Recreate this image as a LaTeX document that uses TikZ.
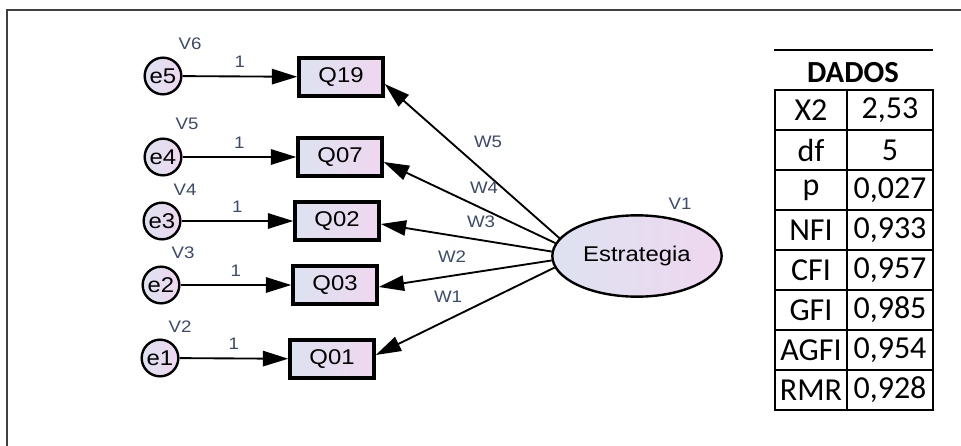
\documentclass[tikz,border=0pt]{standalone}
\usepackage{fontspec}
\setmainfont{Liberation Sans}
\newfontfamily\amosfont[FakeStretch=1.12]{Liberation Sans}
\newfontfamily\tabfont{Carlito}
\usetikzlibrary{arrows.meta,shapes.geometric,calc}

\definecolor{labelblue}{HTML}{3B4A6B}
\definecolor{fillL}{HTML}{DDE2F0}
\definecolor{fillR}{HTML}{EFD7F0}
\definecolor{framegray}{HTML}{404040}

\begin{document}
\begin{tikzpicture}[x=0.75pt,y=-0.75pt,
  obs/.style={draw, line width=2.6pt, rectangle, minimum width=63pt, minimum height=28.5pt,
    inner sep=0pt, left color=fillL, right color=fillR,
    font=\amosfont\fontsize{16}{16}\selectfont},
  err/.style={draw, line width=1.8pt, circle, minimum size=27.5pt, inner sep=0pt,
    left color=fillL, right color=fillR,
    font=\amosfont\fontsize{16}{16}\selectfont},
  lat/.style={draw, ellipse, line width=1.8pt, minimum width=127pt, minimum height=61pt,
    inner sep=0pt, left color=fillL, right color=fillR,
    font=\amosfont\fontsize{16}{16}\selectfont},
  regpath/.style={line width=1.4pt, -{Triangle[length=19pt,width=11.5pt]}},
  small/.style={font=\amosfont\fontsize{12.5}{12.5}\selectfont, text=labelblue, inner sep=0pt},
  cell/.style={draw, line width=1.1pt, rectangle, minimum height=30pt, inner sep=0pt,
    font=\tabfont\fontsize{24}{24}\selectfont},
]
\useasboundingbox (0,0) rectangle (961,446);
\clip (0,0) rectangle (961,446);

% outer frame (continues past the right and bottom edges)
\draw[framegray, line width=1.6pt] (7,470) |- (990,10);

% latent variable
\node[lat] (est) at (637,256) {Estrategia};
\node[small] (v1) at (680,204) {V1};

% observed indicators
\node[obs] (q19) at (341,77)  {Q19};
\node[obs] (q07) at (340,157) {Q07};
\node[obs] (q02) at (337,221) {Q02};
\node[obs] (q03) at (335,285) {Q03};
\node[obs] (q01) at (332,359) {Q01};

% error terms
\node[err] (e5) at (163,76)  {e5};
\node[err] (e4) at (163,157) {e4};
\node[err] (e3) at (162,221) {e3};
\node[err] (e2) at (161,285) {e2};
\node[err] (e1) at (160,358) {e1};

\node[small] (v6) at (190,44)  {V6};
\node[small] (v5) at (187,124) {V5};
\node[small] (v4) at (185,190) {V4};
\node[small] (v3) at (183,253) {V3};
\node[small] (v2) at (180,327) {V2};

% error paths fixed to 1
\draw[regpath] (e5) -- (q19) node[small, pos=0.5, above=6pt] (one5) {1};
\draw[regpath] (e4) -- (q07) node[small, pos=0.5, above=6pt] (one4) {1};
\draw[regpath] (e3) -- (q02) node[small, pos=0.5, above=6pt] (one3) {1};
\draw[regpath] (e2) -- (q03) node[small, pos=0.5, above=6pt] (one2) {1};
\draw[regpath] (e1) -- (q01) node[small, pos=0.5, above=6pt] (one1) {1};

% factor loadings
\draw[regpath] (est.167) -- ($(q19.east)+(0,7)$);
\draw[regpath] (est.171) -- ($(q07.east)+(0,5)$);
\draw[regpath] (est.177) -- ($(q02.east)+(0,3)$);
\draw[regpath] (est.183) -- ($(q03.east)+(0,2)$);
\draw[regpath] (est.188) -- ($(q01.east)+(0,-4)$);

\node[small] (w5) at (488,142) {W5};
\node[small] (w4) at (484,188) {W4};
\node[small] (w3) at (481,222) {W3};
\node[small] (w2) at (452,257) {W2};
\node[small] (w1) at (448,297) {W1};

% fit indices table
\draw[line width=2.2pt] (774,50) -- (933,50);
\node[font=\tabfont\bfseries\fontsize{23}{23}\selectfont] (dados) at (853,73) {DADOS};

\foreach \k/\v [count=\i from 0] in {X2/{2,53}, df/5, p/{0,027}, NFI/{0,933},
    CFI/{0,957}, GFI/{0,985}, AGFI/{0,954}, RMR/{0,928}} {
  \node[cell, minimum width=54pt] (k\i) at (811,110+40*\i) {\k};
  \node[cell, minimum width=64.5pt] (v\i) at (890,110+40*\i) {\v};
}
\end{tikzpicture}
\end{document}
